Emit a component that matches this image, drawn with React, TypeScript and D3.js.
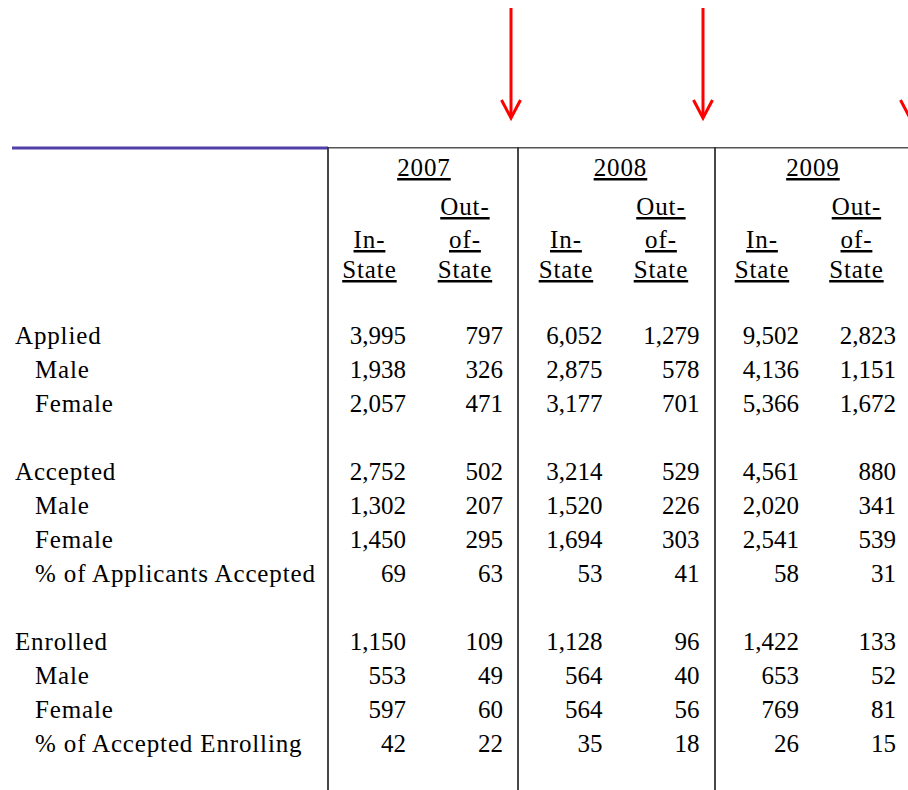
import React from "react";
import * as d3 from "d3";

const years = ["2007", "2008", "2009"];
const rowLabels = [
  "Applied", "Male", "Female", "",
  "Accepted", "Male", "Female", "% of Applicants Accepted", "",
  "Enrolled", "Male", "Female", "% of Accepted Enrolling",
];
const rowIndent = [0, 1, 1, 0, 0, 1, 1, 1, 0, 0, 1, 1, 1];
const inState2007 = [3995, 1938, 2057, null, 2752, 1302, 1450, 69, null, 1150, 553, 597, 42];
const outState2007 = [797, 326, 471, null, 502, 207, 295, 63, null, 109, 49, 60, 22];
const inState2008 = [6052, 2875, 3177, null, 3214, 1520, 1694, 53, null, 1128, 564, 564, 35];
const outState2008 = [1279, 578, 701, null, 529, 226, 303, 41, null, 96, 40, 56, 18];
const inState2009 = [9502, 4136, 5366, null, 4561, 2020, 2541, 58, null, 1422, 653, 769, 26];
const outState2009 = [2823, 1151, 1672, null, 880, 341, 539, 31, null, 133, 52, 81, 15];
const arrowYears = ["2007", "2008", "2009"];

const W = 908;
const H = 790;
const FONT = "'Liberation Serif', 'Times New Roman', serif";
const FS = 25;
const LS_LABEL = 0.85;
const LS_HEAD = 0.9;

export default function App() {
  const fmt = d3.format(",");
  const yRow = d3.scaleLinear().domain([0, 1]).range([344, 378]);
  const yearIdx = d3.scaleLinear().domain([0, 1]).range([0, 196.5]);
  const inRight = (i: number) => 406 + yearIdx(i);
  const outRight = (i: number) => 503 + yearIdx(i);
  const adj = LS_HEAD / 2;
  const yearCenter = (i: number) => 423.5 + yearIdx(i) - (i === 2 ? 4 : 0) + adj;
  const inCenter = (i: number) => 369 + yearIdx(i) + (i === 2 ? -0.5 : 0) + adj;
  const outCenter = (i: number) => 464.5 + yearIdx(i) - (i === 1 ? 0.5 : i === 2 ? 1.5 : 0) + adj;
  const arrowX = [511, 703, 910];
  const dividerX = [328, 518, 715];
  const ins = [inState2007, inState2008, inState2009];
  const outs = [outState2007, outState2008, outState2009];

  const textProps = { fontFamily: FONT, fontSize: FS, fill: "#000" };

  return (
    <svg width={W} height={H} style={{ position: "absolute", left: 0, top: 0, background: "#fff" }}>
      <rect x={0} y={0} width={W} height={H} fill="#fff" />
      {/* arrows */}
      {arrowYears.map((yr, i) => (
        <g key={yr} stroke="#ff0000" strokeWidth={3} fill="none" strokeLinecap="butt">
          <line x1={arrowX[i]} y1={8} x2={arrowX[i]} y2={117} />
          <polyline points={`${arrowX[i] - 9.5},100 ${arrowX[i]},118 ${arrowX[i] + 9.5},100`} strokeLinejoin="miter" />
        </g>
      ))}
      {/* top rules */}
      <line x1={12} y1={148} x2={328} y2={148} stroke="#5040a8" strokeWidth={3.2} />
      <line x1={328} y1={147.8} x2={W} y2={147.8} stroke="#555" strokeWidth={1.6} />
      {dividerX.map((x) => (
        <line key={x} x1={x} y1={147} x2={x} y2={H} stroke="#333" strokeWidth={1.8} />
      ))}
      {/* headers */}
      {years.map((yr, i) => (
        <g key={yr} {...textProps} textDecoration="underline" letterSpacing={LS_HEAD}>
          <text x={yearCenter(i)} y={176} textAnchor="middle">{yr}</text>
          <text x={outCenter(i)} y={215} textAnchor="middle">Out-</text>
          <text x={inCenter(i)} y={248} textAnchor="middle">In-</text>
          <text x={outCenter(i)} y={248} textAnchor="middle">of-</text>
          <text x={inCenter(i)} y={278} textAnchor="middle">State</text>
          <text x={outCenter(i)} y={278} textAnchor="middle">State</text>
        </g>
      ))}
      {/* row labels */}
      {rowLabels.map((lab, r) =>
        lab ? (
          <text key={"l" + r} x={rowIndent[r] ? 35 : 15} y={yRow(r)} {...textProps} letterSpacing={LS_LABEL}>
            {lab}
          </text>
        ) : null
      )}
      {/* values */}
      {years.map((yr, i) => (
        <g key={"v" + yr} {...textProps} textAnchor="end">
          {ins[i].map((v, r) =>
            v == null ? null : (
              <text key={"i" + r} x={inRight(i)} y={yRow(r)}>{fmt(v)}</text>
            )
          )}
          {outs[i].map((v, r) =>
            v == null ? null : (
              <text key={"o" + r} x={outRight(i)} y={yRow(r)}>{fmt(v)}</text>
            )
          )}
        </g>
      ))}
    </svg>
  );
}
